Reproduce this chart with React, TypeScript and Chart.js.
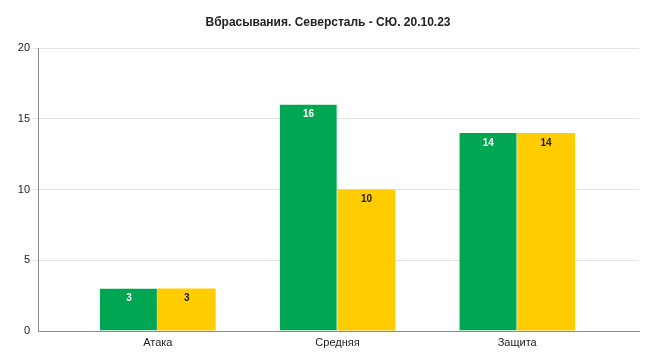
import React, { useEffect, useRef } from "react";
import { Chart, registerables } from "chart.js";

Chart.register(...registerables);

const TITLE = "Вбрасывания. Северсталь - СЮ. 20.10.23";
const categories = ["Атака", "Средняя", "Защита"];
const seriesGreen = [3, 16, 14];
const seriesYellow = [3, 10, 14];
const yTicks = [0, 5, 10, 15, 20];

const GREEN = "#00A651";
const YELLOW = "#FFCC00";
const FONT = "'Liberation Sans', Arial, sans-serif";

const labelPlugin = {
  id: "barLabels",
  afterDatasetsDraw(chart: any) {
    const ctx = chart.ctx;
    ctx.save();
    ctx.font = `bold 10px ${FONT}`;
    ctx.textAlign = "center";
    ctx.textBaseline = "middle";
    chart.data.datasets.forEach((ds: any, di: number) => {
      const meta = chart.getDatasetMeta(di);
      meta.data.forEach((el: any, i: number) => {
        const v = ds.data[i].y;
        ctx.fillStyle = di === 0 ? "#ffffff" : "#1a1a1a";
        ctx.fillText(String(v), el.x, el.y + 10);
      });
    });
    ctx.restore();
  },
};

const titlePlugin = {
  id: "customTitle",
  afterDraw(chart: any) {
    const ctx = chart.ctx;
    ctx.save();
    ctx.font = `bold 12px ${FONT}`;
    ctx.fillStyle = "#222222";
    ctx.textAlign = "center";
    ctx.textBaseline = "middle";
    ctx.fillText(TITLE, chart.width / 2, 23);
    ctx.restore();
  },
};

export default function App() {
  const ref = useRef<HTMLCanvasElement | null>(null);
  useEffect(() => {
    document.body.style.margin = "0";
    const chart = new Chart(ref.current as HTMLCanvasElement, {
      type: "bar",
      data: {
        datasets: [
          {
            data: seriesGreen.map((y, i) => ({ x: i, y })),
            backgroundColor: GREEN,
            borderColor: "#7fd3a8",
            borderWidth: { right: 1, left: 0, top: 0, bottom: 0 },
          },
          {
            data: seriesYellow.map((y, i) => ({ x: i, y })),
            backgroundColor: YELLOW,
            borderWidth: 0,
          },
        ],
      },
      options: {
        animation: false,
        responsive: false,
        layout: { padding: { top: 48, right: 17, left: 0, bottom: 0 } },
        datasets: { bar: { categoryPercentage: 0.644, barPercentage: 1 } },
        plugins: {
          legend: { display: false },
          title: { display: false },
          tooltip: { enabled: false },
        },
        scales: {
          x: {
            type: "linear",
            offset: false,
            min: -0.667,
            max: 2.678,
            grid: { display: false, drawTicks: false, offset: false },
            border: { display: true, color: "#8a8a8a", width: 1 },
            afterBuildTicks(scale: any) {
              scale.ticks = categories.map((_, i) => ({ value: i }));
            },
            afterFit(scale: any) {
              scale.height = 33;
            },
            ticks: {
              autoSkip: false,
              maxRotation: 0,
              padding: 5,
              color: "#222222",
              font: { family: FONT, size: 11 },
              callback: (v: any) => categories[v] ?? "",
            },
          },
          y: {
            min: 0,
            max: 20,
            afterBuildTicks(scale: any) {
              scale.ticks = yTicks.map((v) => ({ value: v }));
            },
            afterFit(scale: any) {
              scale.width = 38;
            },
            grid: {
              color: (c: any) => (c.tick && c.tick.value === 0 ? "rgba(0,0,0,0)" : "#e3e3e3"),
              tickLength: 5,
              lineWidth: 1,
            },
            border: { display: true, color: "#8a8a8a", width: 1 },
            ticks: {
              padding: 3,
              color: "#222222",
              font: { family: FONT, size: 11 },
            },
          },
        },
      },
      plugins: [labelPlugin, titlePlugin],
    } as any);
    return () => chart.destroy();
  }, []);
  return (
    <div style={{ width: 656, height: 364 }}>
      <canvas ref={ref} width={656} height={364} style={{ display: "block" }} />
    </div>
  );
}
